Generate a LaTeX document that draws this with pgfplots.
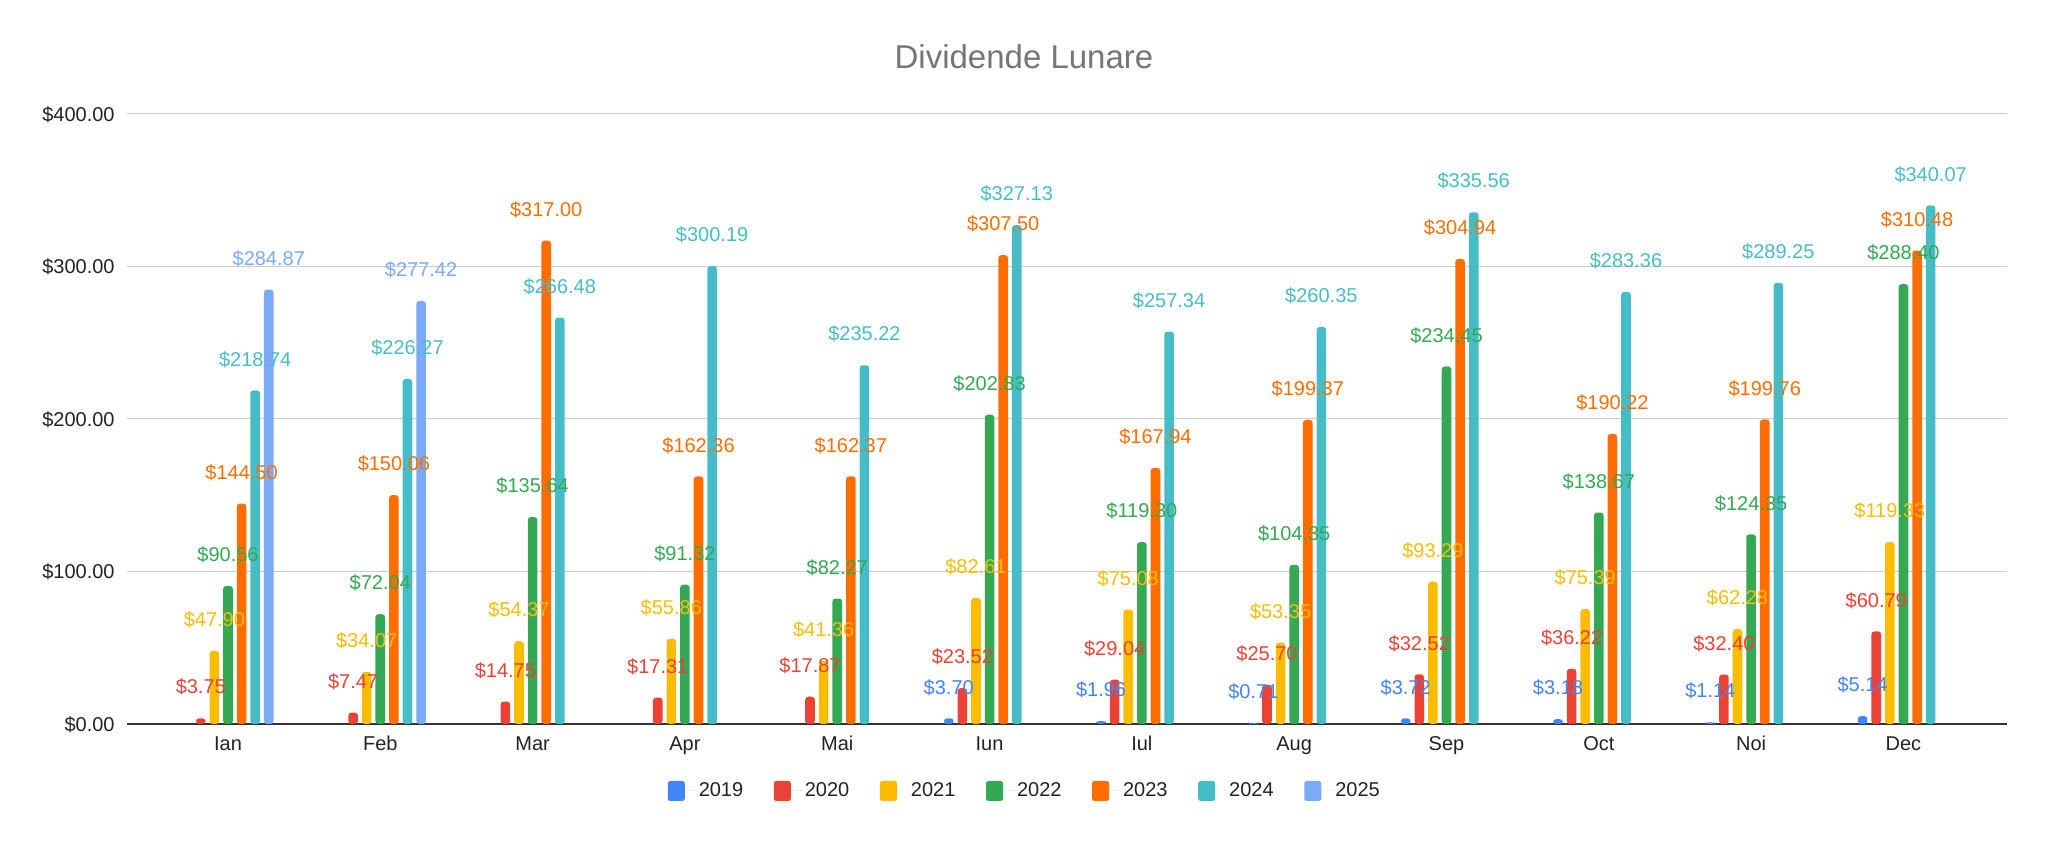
\documentclass[border=0pt]{standalone}
\usepackage{fontspec}
\setmainfont{Liberation Sans}
\usepackage{pgfplots}
\usepackage{pgfplotstable}
\pgfplotsset{compat=1.18}

\definecolor{c2019}{HTML}{4285F4}
\definecolor{c2020}{HTML}{EA4335}
\definecolor{c2021}{HTML}{FBBC04}
\definecolor{c2022}{HTML}{34A853}
\definecolor{c2023}{HTML}{FF6D01}
\definecolor{c2024}{HTML}{46BDC6}
\definecolor{c2025}{HTML}{7BAAF7}
\definecolor{titlegray}{HTML}{757575}
\definecolor{gridgray}{HTML}{CCCCCC}
\definecolor{axisdark}{HTML}{333333}
\definecolor{txt}{HTML}{222222}

\pgfplotstableread{
x y
5 3.70
6 1.96
7 0.71
8 3.72
9 3.18
10 1.14
11 5.14
}\dA
\pgfplotstableread{
x y
0 3.75
1 7.47
2 14.75
3 17.31
4 17.87
5 23.52
6 29.04
7 25.70
8 32.52
9 36.22
10 32.40
11 60.79
}\dB
\pgfplotstableread{
x y
0 47.90
1 34.07
2 54.37
3 55.86
4 41.36
5 82.61
6 75.08
7 53.35
8 93.29
9 75.39
10 62.28
11 119.33
}\dC
\pgfplotstableread{
x y
0 90.56
1 72.04
2 135.64
3 91.32
4 82.27
5 202.83
6 119.30
7 104.35
8 234.45
9 138.67
10 124.35
11 288.40
}\dD
\pgfplotstableread{
x y
0 144.50
1 150.06
2 317.00
3 162.36
4 162.37
5 307.50
6 167.94
7 199.37
8 304.94
9 190.22
10 199.76
11 310.48
}\dE
\pgfplotstableread{
x y
0 218.74
1 226.27
2 266.48
3 300.19
4 235.22
5 327.13
6 257.34
7 260.35
8 335.56
9 283.36
10 289.25
11 340.07
}\dF
\pgfplotstableread{
x y
0 284.87
1 277.42
}\dG

\pgfplotsset{
  bars/.style 2 args={ybar, bar width=4.8pt, bar shift=#2, fill=#1, draw=none, rounded corners=1.5pt,
    legend image code/.code={\fill[##1, rounded corners=1.2pt] (0pt,-5pt) rectangle (8.5pt,5pt); \path (0pt,0pt) -- (15.5pt,0pt);}},
  lbl/.style 2 args={draw=none, mark=none, forget plot,
    nodes near coords={\$\pgfmathprintnumber[fixed,fixed zerofill,precision=2]{\pgfplotspointmeta}},
    every node near coord/.append style={text=#1, anchor=center, xshift=#2, yshift=15.5pt,
      inner sep=0pt, font=\fontsize{10}{12}\selectfont}},
}

\begin{document}
\begin{tikzpicture}
\useasboundingbox (-63.5pt,-60.5pt) rectangle (960.5pt,362pt);
\begin{axis}[
  at={(0,0)}, anchor=south west,
  scale only axis, width=940pt, height=305pt,
  xmin=-0.663, xmax=11.68, ymin=0, ymax=400,
  clip=false,
  /pgf/number format/assume math mode=true,
  axis x line=bottom, axis y line=left,
  x axis line style={draw=axisdark, line width=0.75pt, -},
  y axis line style={draw=none},
  major tick length=0pt, tick style={draw=none},
  xtick={0,...,11},
  xticklabels={Ian,Feb,Mar,Apr,Mai,Iun,Iul,Aug,Sep,Oct,Noi,Dec},
  xticklabel style={anchor=base, yshift=-13pt, inner sep=0pt, text=txt, font=\fontsize{10}{12}\selectfont},
  ytick={0,100,200,300,400},
  yticklabels={\$0.00,\$100.00,\$200.00,\$300.00,\$400.00},
  yticklabel style={anchor=base east, inner sep=0pt, xshift=-6pt, yshift=-3.6pt, text=txt, font=\fontsize{10}{12}\selectfont},
  ymajorgrids, grid style={draw=gridgray, line width=0.5pt},
  legend style={at={(0.477,-0.1098)}, anchor=center, draw=none, fill=none,
    legend columns=-1, font=\fontsize{10}{12}\selectfont, text=txt,
    nodes={inner sep=0pt},
    /tikz/every even column/.append style={column sep=15.3pt}},
]
\addplot[bars={c2019}{-20.4pt}] table {\dA}; \addlegendentry{2019}
\addplot[bars={c2020}{-13.6pt}] table {\dB}; \addlegendentry{2020}
\addplot[bars={c2021}{-6.8pt}] table {\dC}; \addlegendentry{2021}
\addplot[bars={c2022}{0pt}] table {\dD}; \addlegendentry{2022}
\addplot[bars={c2023}{6.8pt}] table {\dE}; \addlegendentry{2023}
\addplot[bars={c2024}{13.6pt}] table {\dF}; \addlegendentry{2024}
\addplot[bars={c2025}{20.4pt}] table {\dG}; \addlegendentry{2025}

\addplot[lbl={c2019}{-20.4pt}] table {\dA};
\addplot[lbl={c2020}{-13.6pt}] table {\dB};
\addplot[lbl={c2021}{-6.8pt}] table {\dC};
\addplot[lbl={c2022}{0pt}] table {\dD};
\addplot[lbl={c2023}{6.8pt}] table {\dE};
\addplot[lbl={c2024}{13.6pt}] table {\dF};
\addplot[lbl={c2025}{20.4pt}] table {\dG};
\end{axis}
\node[font=\fontsize{16.5}{20}\selectfont, text=titlegray] at (448.5pt,333.5pt) {Dividende Lunare};
\end{tikzpicture}
\end{document}
